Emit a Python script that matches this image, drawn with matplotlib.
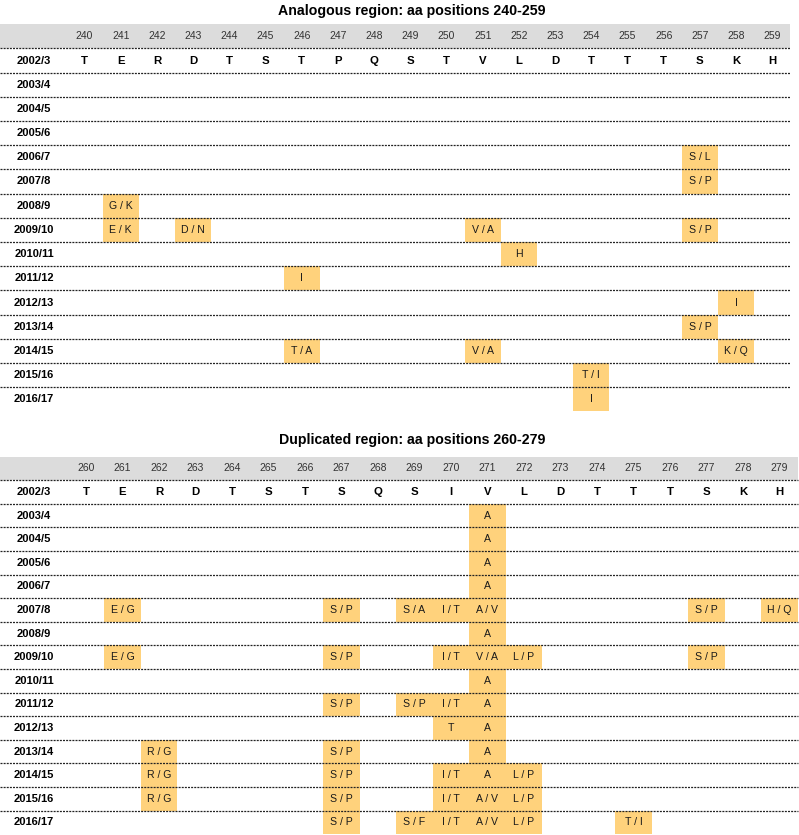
import matplotlib
matplotlib.use("Agg")
import matplotlib.pyplot as plt

plt.rcParams['font.family'] = ['Liberation Sans', 'DejaVu Sans']

# ---------------- data ----------------
seasons = ["2002/3", "2003/4", "2004/5", "2005/6", "2006/7", "2007/8", "2008/9",
           "2009/10", "2010/11", "2011/12", "2012/13", "2013/14", "2014/15",
           "2015/16", "2016/17"]

analog_positions = [240, 241, 242, 243, 244, 245, 246, 247, 248, 249,
                    250, 251, 252, 253, 254, 255, 256, 257, 258, 259]
analog_reference = ["T", "E", "R", "D", "T", "S", "T", "P", "Q", "S",
                    "T", "V", "L", "D", "T", "T", "T", "S", "K", "H"]
analog_mut_season = ["2006/7", "2007/8", "2008/9", "2009/10", "2009/10", "2009/10",
                     "2009/10", "2010/11", "2011/12", "2012/13", "2013/14",
                     "2014/15", "2014/15", "2014/15", "2015/16", "2016/17"]
analog_mut_pos = [257, 257, 241, 241, 243, 251, 257, 252, 246, 258, 257,
                  246, 251, 258, 254, 254]
analog_mut_text = ["S / L", "S / P", "G / K", "E / K", "D / N", "V / A", "S / P",
                   "H", "I", "I", "S / P", "T / A", "V / A", "K / Q", "T / I", "I"]

dup_positions = [260, 261, 262, 263, 264, 265, 266, 267, 268, 269,
                 270, 271, 272, 273, 274, 275, 276, 277, 278, 279]
dup_reference = ["T", "E", "R", "D", "T", "S", "T", "S", "Q", "S",
                 "I", "V", "L", "D", "T", "T", "T", "S", "K", "H"]
dup_mut_season = ["2003/4", "2004/5", "2005/6", "2006/7",
                  "2007/8", "2007/8", "2007/8", "2007/8", "2007/8", "2007/8", "2007/8",
                  "2008/9",
                  "2009/10", "2009/10", "2009/10", "2009/10", "2009/10", "2009/10",
                  "2010/11",
                  "2011/12", "2011/12", "2011/12", "2011/12",
                  "2012/13", "2012/13",
                  "2013/14", "2013/14", "2013/14",
                  "2014/15", "2014/15", "2014/15", "2014/15", "2014/15",
                  "2015/16", "2015/16", "2015/16", "2015/16", "2015/16",
                  "2016/17", "2016/17", "2016/17", "2016/17", "2016/17", "2016/17"]
dup_mut_pos = [271, 271, 271, 271,
               261, 267, 269, 270, 271, 277, 279,
               271,
               261, 267, 270, 271, 272, 277,
               271,
               267, 269, 270, 271,
               270, 271,
               262, 267, 271,
               262, 267, 270, 271, 272,
               262, 267, 270, 271, 272,
               267, 269, 270, 271, 272, 275]
dup_mut_text = ["A", "A", "A", "A",
                "E / G", "S / P", "S / A", "I / T", "A / V", "S / P", "H / Q",
                "A",
                "E / G", "S / P", "I / T", "V / A", "L / P", "S / P",
                "A",
                "S / P", "S / P", "I / T", "A",
                "T", "A",
                "R / G", "S / P", "A",
                "R / G", "S / P", "I / T", "A", "L / P",
                "R / G", "S / P", "I / T", "A / V", "L / P",
                "S / P", "S / F", "I / T", "A / V", "L / P", "T / I"]

# ---------------- style ----------------
W, H = 799, 835
HILITE = "#FFD27C"
HEADER_BG = "#DCDCDC"
LINE_C = "#222222"

fig = plt.figure(figsize=(W / 100, H / 100), dpi=100)


def draw_panel(title, positions, reference, m_season, m_pos, m_text,
               col0, sp, row0, rh, title_dy):
    top_px = row0 - 2.5 * rh
    bot_px = row0 + 14.5 * rh
    ax = fig.add_axes([0, 1 - bot_px / H, 1, (bot_px - top_px) / H])
    ax.set_axis_off()
    xl = -col0 / sp
    xr = (W - col0) / sp
    ax.set_xlim(xl, xr)
    ax.set_ylim(len(seasons) - 0.5, -2.5)
    ncol = len(positions)

    # header band
    ax.barh(-1, width=(ncol - 0.5) - xl, left=xl, height=1.0,
            color=HEADER_BG, linewidth=0, zorder=1)
    for i, p in enumerate(positions):
        ax.text(i, -1, str(p), ha="center", va="center", fontsize=7.5,
                color="#333333", zorder=4)

    # highlighted cells
    for s, p, t in zip(m_season, m_pos, m_text):
        r = seasons.index(s)
        c = positions.index(p)
        ax.bar(c, 1.0, bottom=r - 0.5, width=1.0, color=HILITE,
               linewidth=0, zorder=1)
        ax.text(c, r, t, ha="center", va="center", fontsize=7.6,
                color="#1a1a1a", zorder=4)

    # reference sequence
    for i, a in enumerate(reference):
        ax.text(i, 0, a, ha="center", va="center", fontsize=8.2,
                fontweight="bold", color="black", zorder=4)

    # row labels
    lab_x = (34 - col0) / sp
    for r, s in enumerate(seasons):
        ax.text(lab_x, r, s, ha="center", va="center", fontsize=8,
                fontweight="bold", color="black", zorder=4)

    # dashed separators
    for r in range(len(seasons)):
        ax.hlines(r - 0.5, xl, ncol - 0.5, colors=LINE_C, linewidth=0.9,
                  linestyles=(0, (1.6, 0.9)), zorder=3)

    # title
    ax.text((412 - col0) / sp, -2 + title_dy, title, ha="center", va="center",
            fontsize=10.2, fontweight="bold", color="black", zorder=4)
    return ax


draw_panel("Analogous region: aa positions 240-259", analog_positions,
           analog_reference, analog_mut_season, analog_mut_pos, analog_mut_text,
           col0=84.5, sp=36.2, row0=60.5, rh=24.2, title_dy=-0.05)
draw_panel("Duplicated region: aa positions 260-279", dup_positions,
           dup_reference, dup_mut_season, dup_mut_pos, dup_mut_text,
           col0=86.0, sp=36.5, row0=492.0, rh=23.6, title_dy=-0.2)

fig.savefig("out.png", dpi=100)
